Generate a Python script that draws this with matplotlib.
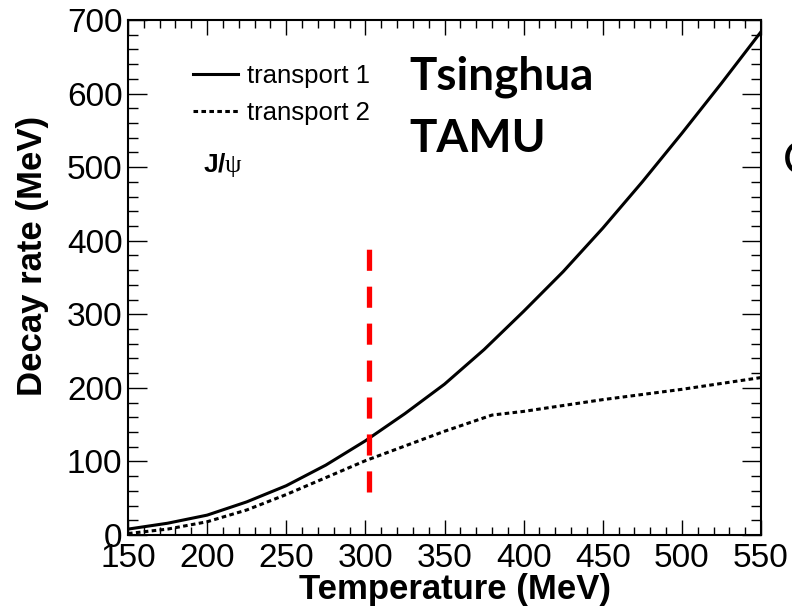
import matplotlib
matplotlib.use("Agg")
import matplotlib.pyplot as plt

# temperature grid (MeV) and decay rates (MeV)
temp1 = [150, 175, 200, 225, 250, 275, 300, 325, 350, 375, 400, 425, 450, 475, 500, 525, 550]
rate1 = [8, 16, 27, 45, 67, 95, 128, 165, 205, 252, 304, 358, 417, 480, 546, 614, 684]

temp2 = [150, 175, 200, 225, 250, 275, 300, 325, 350, 380, 400, 450, 500, 550]
rate2 = [2, 8, 18, 34, 55, 78, 101, 121, 141, 163, 168, 184, 198, 214]

labels = ["transport 1", "transport 2"]

# red marker line
tc = 302
tc_range = [58, 393]

xticks = [150, 200, 250, 300, 350, 400, 450, 500, 550]
yticks = [0, 100, 200, 300, 400, 500, 600, 700]

plt.rcParams['font.family'] = ['Liberation Sans', 'DejaVu Sans']
plt.rcParams['mathtext.fontset'] = 'custom'
plt.rcParams['mathtext.bf'] = 'Liberation Sans:bold'
plt.rcParams['mathtext.rm'] = 'Liberation Serif'

W, H = 792, 612
fig = plt.figure(figsize=(W / 100, H / 100), dpi=100)
ax = fig.add_axes([128 / W, 1 - 535 / H, (761 - 128) / W, (535 - 20) / H])

ax.plot(temp1, rate1, color='black', lw=2.2, label=labels[0])
ax.plot(temp2, rate2, color='black', lw=2.2, linestyle=(0, (1.5, 1.1)),
        dash_capstyle='butt', label=labels[1])
ax.plot([tc, tc], tc_range, color='red', lw=3.8, linestyle=(0, (4, 3)),
        dash_capstyle='butt')

ax.set_xlim(150, 550)
ax.set_ylim(0, 700)
ax.set_xticks(xticks)
ax.set_yticks(yticks)
ax.set_xticks(range(150, 551, 10), minor=True)
ax.set_yticks(range(0, 701, 20), minor=True)

for s in ax.spines.values():
    s.set_linewidth(1.5)

ax.tick_params(which='both', direction='in', top=True, right=True, width=1)
ax.tick_params(axis='x', which='major', length=10.8, labelsize=24, pad=6)
ax.tick_params(axis='x', which='minor', length=5.8)
ax.tick_params(axis='y', which='major', length=13.7, labelsize=24, pad=4)
ax.tick_params(axis='y', which='minor', length=7.2)

fig.text(455 / W, 1 - 590 / H, "Temperature (MeV)", fontsize=25, fontweight='bold',
         ha='center', va='center')
fig.text(33 / W, 1 - 256 / H, "Decay rate (MeV)", fontsize=25, fontweight='bold',
         rotation=90, ha='center', va='center')

leg = ax.legend(loc='upper left', bbox_to_anchor=(193 / W, 1 - 64 / H),
                bbox_transform=fig.transFigure, frameon=False, fontsize=18.5,
                handlelength=1.75, handletextpad=0.36, labelspacing=0.5,
                borderpad=0, borderaxespad=0)

fig.text(203 / W, 1 - 172 / H, r'$\mathbf{J/}\mathrm{\psi}$', fontsize=19,
         ha='left', va='baseline')

fig.text(409 / W, 1 - 90 / H, "Tsinghua", family='Lato', fontweight='bold',
         fontsize=33, ha='left', va='baseline')
fig.text(409 / W, 1 - 152 / H, "TAMU", family='Lato', fontweight='bold',
         fontsize=33, ha='left', va='baseline')
fig.text(783 / W, 1 - 174 / H, "C", family='Lato', fontsize=33,
         ha='left', va='baseline')

fig.savefig("out.png", dpi=100)
